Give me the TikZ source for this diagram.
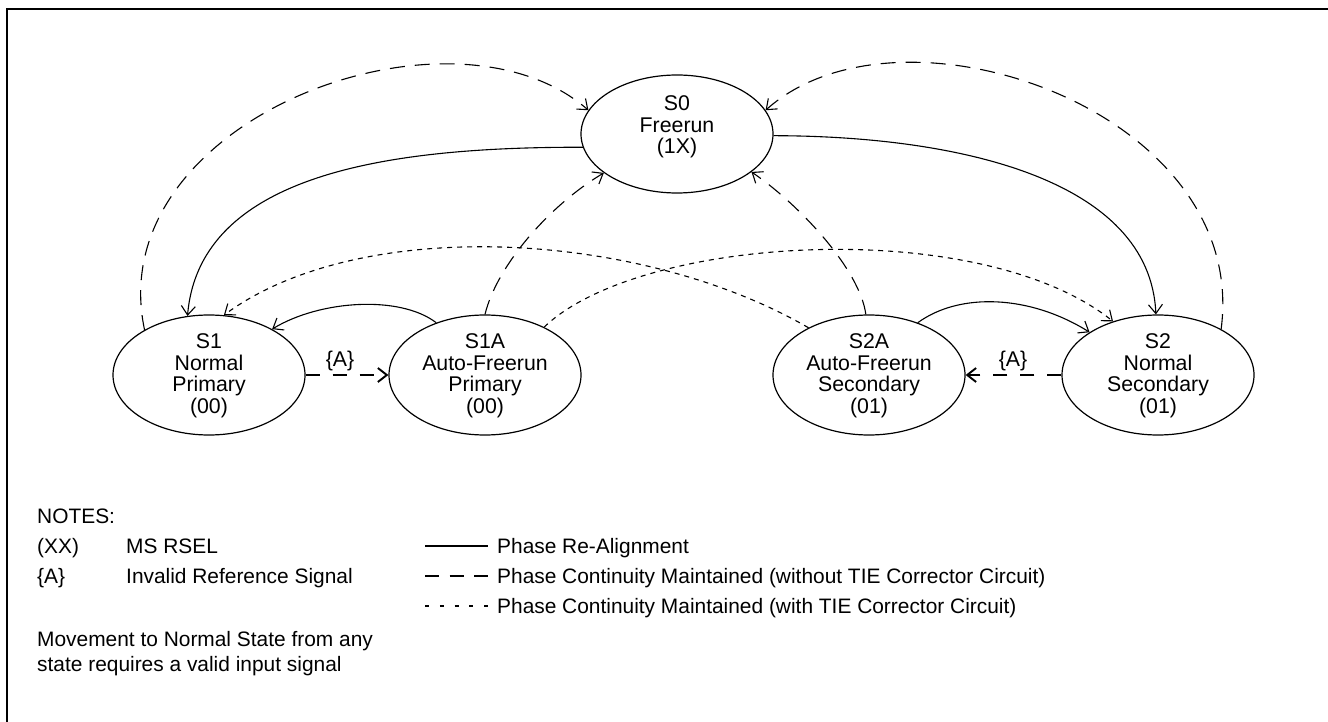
\documentclass[tikz,border=0pt]{standalone}
\usepackage{fontspec}
\setmainfont{Liberation Sans}
\usetikzlibrary{shapes.geometric,arrows.meta}
\begin{document}
\begin{tikzpicture}[x=1pt,y=-1pt,
  state/.style={draw,ellipse,minimum width=192pt,minimum height=120pt,inner sep=0pt,line width=1.2pt},
  txt/.style={align=center,font=\fontsize{21.3}{21.5}\selectfont,inner sep=0pt},
  note/.style={anchor=base west,font=\fontsize{20.9}{21.5}\selectfont,inner sep=0pt},
  conn/.style={line width=1.1pt,-{Straight Barb[length=9pt,width=14pt]}},
  dsh/.style={dash pattern=on 15pt off 10pt},
  dot/.style={dash pattern=on 5pt off 5pt},
  thick conn/.style={line width=1.9pt,dash pattern=on 14pt off 13pt,-{Straight Barb[length=9pt,width=14pt]}},
  legend/.style={line width=2pt},
]
\useasboundingbox (0,0) rectangle (1328,722);
\draw[line width=2.3pt] (7,722) -- (7,9) -- (1328,9);

% states
\node[state,minimum height=118pt] (s0) at (677,134) {};
\node[txt] (s0t) at (677,127) {S0\\Freerun\\(1X)};
\node[state] (s1) at (209,375) {};
\node[txt] (s1t) at (209,376) {S1\\Normal\\Primary\\(00)};
\node[state] (s1a) at (485,375) {};
\node[txt] (s1at) at (485,376) {S1A\\Auto-Freerun\\Primary\\(00)};
\node[state] (s2a) at (869,375) {};
\node[txt] (s2at) at (869,376) {S2A\\Auto-Freerun\\Secondary\\(01)};
\node[state] (s2) at (1158,375) {};
\node[txt] (s2t) at (1158,376) {S2\\Normal\\Secondary\\(01)};

% connectors
\draw[conn,dsh] (s1.145) .. controls (100,120) and (450,-10) .. (s0.165);
\draw[conn,dsh] (s2.36) .. controls (1250,110) and (900,-10) .. (s0.15);
\draw[conn] (s0.188) .. controls (400,147) and (200,170) .. (s1.110);
\draw[conn] (s0.-1) .. controls (960,136) and (1150,180) .. (s2.92);
\draw[conn,dsh] (s1a.90) .. controls (497,265) and (550,205) .. (s0.208);
\draw[conn,dsh] (s2a.93) .. controls (860,270) and (800,205) .. (s0.333);
\draw[conn,dot] (s2a.142) .. controls (640,230) and (360,215) .. (s1.76);
\draw[conn,dot] (s1a.39) .. controls (640,235) and (980,215) .. (s2.130);
\draw[conn] (s1a.133) .. controls (400,295) and (320,300) .. (s1.36);
\draw[conn] (s2a.47) .. controls (960,292) and (1030,295) .. (s2.148);

\draw[thick conn] (s1.east) -- (s1a.west);
\node[txt] (a1) at (340,361) {\{A\}};
\draw[thick conn] (s2.west) -- (s2a.east);
\node[txt] (a2) at (1013,361) {\{A\}};

% notes
\node[note] (notes) at (37,523) {NOTES:};
\node[note] (xx) at (37,553) {(XX)};
\node[note] (ms) at (126,553) {MS RSEL};
\node[note] (aa) at (37,583) {\{A\}};
\node[note] (inv) at (126,583) {Invalid Reference Signal};
\node[note] (m1) at (37,646) {Movement to Normal State from any};
\node[note] (m2) at (37,671) {state requires a valid input signal};
\node[note] (p1) at (497,553) {Phase Re-Alignment};
\node[note] (p2) at (497,583) {Phase Continuity Maintained (without TIE Corrector Circuit)};
\node[note] (p3) at (497,613) {Phase Continuity Maintained (with TIE Corrector Circuit)};
\draw[legend] (425,546) -- (488,546);
\draw[legend,dash pattern=on 14pt off 10.5pt] (425,576) -- (488,576);
\draw[legend,dash pattern=on 4pt off 10.75pt] (425,606) -- (489,606);
\end{tikzpicture}
\end{document}
